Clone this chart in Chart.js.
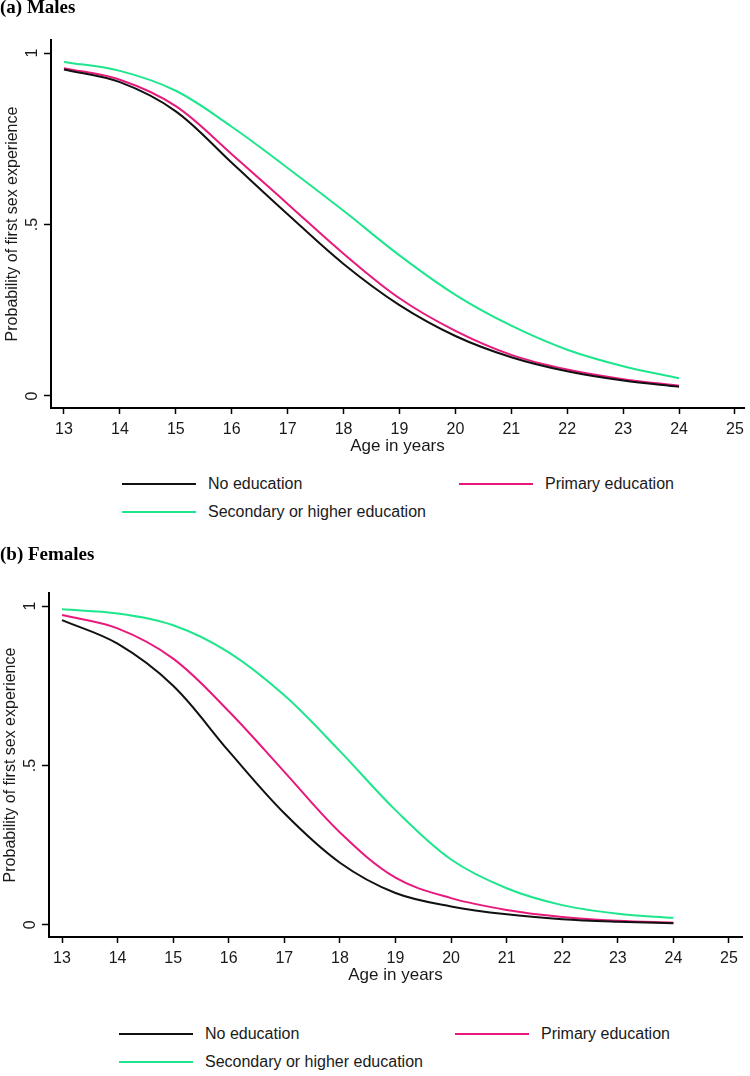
<!DOCTYPE html>
<html>
<head>
<meta charset="utf-8">
<script src="https://cdn.jsdelivr.net/npm/chart.js@4.4.0/dist/chart.umd.min.js"></script>
<style>
  html, body { margin: 0; padding: 0; background: #fff; }
  body { width: 750px; height: 1076px; position: relative; overflow: hidden; font-family: "Liberation Sans", Arial, sans-serif; }
  .panel { position: absolute; left: 0; width: 750px; }
  .legend-item { position: absolute; display: flex; align-items: center; font-size: 16px; color: #1a1a1a; white-space: nowrap; }
  .legend-line { display: inline-block; width: 74px; height: 2px; margin-right: 12px; }
</style>
</head>
<body>
<div class="panel" style="top:0;height:460px;"><canvas id="chart-males"></canvas></div>
<div class="panel" style="top:540px;height:449px;"><canvas id="chart-females"></canvas></div>
<div id="legend-males"></div>
<div id="legend-females"></div>

<script>
// x values (age in years) and tick labels
const ages = [13, 14, 15, 16, 17, 18, 19, 20, 21, 22, 23, 24];
const xTicks = [13, 14, 15, 16, 17, 18, 19, 20, 21, 22, 23, 24, 25];
const yTicks = [0, 0.5, 1];
const yTickLabels = ['0', '.5', '1'];

const seriesNames = ['No education', 'Primary education', 'Secondary or higher education'];
const seriesColors = ['#111111', '#e8197d', '#1ee68c'];

// (a) Males
const malesNoEdu     = [0.952, 0.915, 0.830, 0.680, 0.530, 0.385, 0.265, 0.175, 0.113, 0.072, 0.045, 0.027];
const malesPrimary   = [0.956, 0.922, 0.845, 0.705, 0.560, 0.415, 0.285, 0.190, 0.120, 0.077, 0.049, 0.030];
const malesSecondary = [0.974, 0.948, 0.890, 0.785, 0.665, 0.540, 0.410, 0.295, 0.205, 0.135, 0.087, 0.052];

// (b) Females
const femNoEdu     = [0.956, 0.882, 0.750, 0.545, 0.350, 0.195, 0.100, 0.058, 0.033, 0.018, 0.010, 0.005];
const femPrimary   = [0.972, 0.930, 0.835, 0.670, 0.480, 0.290, 0.148, 0.084, 0.047, 0.025, 0.013, 0.007];
const femSecondary = [0.990, 0.977, 0.940, 0.855, 0.720, 0.545, 0.360, 0.205, 0.115, 0.062, 0.035, 0.022];

const sansFont = "'Liberation Sans', Arial, sans-serif";

function makeChart(canvasId, cfg) {
  const ctx = document.getElementById(canvasId);
  const datasets = cfg.series.map((vals, i) => ({
    label: seriesNames[i],
    data: ages.map((a, j) => ({ x: a, y: vals[j] })),
    borderColor: seriesColors[i],
    backgroundColor: seriesColors[i],
    borderWidth: 2,
    pointRadius: 0,
    tension: 0.35,
    fill: false,
  }));

  return new Chart(ctx, {
    type: 'line',
    data: { datasets },
    options: {
      responsive: true,
      maintainAspectRatio: false,
      animation: false,
      layout: { padding: { left: 0, right: cfg.padRight, top: 0, bottom: 0 } },
      plugins: {
        legend: { display: false },
        tooltip: { enabled: false },
        title: {
          display: true,
          text: cfg.title,
          align: 'start',
          color: '#000',
          font: { family: "'Liberation Serif', 'Times New Roman', serif", size: 19, weight: 'bold', lineHeight: 0.8 },
          padding: { top: cfg.titleTop, bottom: cfg.titleBottom },
        },
      },
      scales: {
        x: {
          type: 'linear',
          min: cfg.xMin,
          max: cfg.xMax,
          afterFit: (scale) => { scale.height = 52; },
          afterBuildTicks: (scale) => { scale.ticks = xTicks.map(v => ({ value: v })); },
          border: { display: true, color: '#000', width: 2 },
          grid: { drawOnChartArea: false, drawTicks: true, tickLength: 6, tickColor: '#000', tickWidth: 1.5 },
          ticks: { color: '#1a1a1a', padding: 6, maxRotation: 0, font: { family: sansFont, size: 16 } },
          title: {
            display: true,
            text: 'Age in years',
            color: '#1a1a1a',
            font: { family: sansFont, size: 17 },
            padding: { top: 0, bottom: 3 },
          },
        },
        y: {
          type: 'linear',
          min: cfg.yMin,
          max: cfg.yMax,
          afterFit: (scale) => { scale.width = cfg.yWidth; },
          afterBuildTicks: (scale) => { scale.ticks = yTicks.map(v => ({ value: v })); },
          border: { display: true, color: '#000', width: 2 },
          grid: { drawOnChartArea: false, drawTicks: true, tickLength: 7, tickColor: '#000', tickWidth: 1.5 },
          ticks: {
            color: '#1a1a1a',
            padding: 5,
            minRotation: 90,
            maxRotation: 90,
            crossAlign: 'center',
            font: { family: sansFont, size: 16 },
            callback: (v) => yTickLabels[yTicks.indexOf(v)] ?? '',
          },
          title: {
            display: true,
            text: 'Probability of first sex experience',
            color: '#1a1a1a',
            font: { family: sansFont, size: 16 },
            padding: { top: cfg.yTitlePad, bottom: 0 },
          },
        },
      },
    },
  });
}

function makeLegend(containerId, top1, top2, col1, col2) {
  const box = document.getElementById(containerId);
  const spots = [[col1, top1], [col2, top1], [col1, top2]];
  seriesNames.forEach((name, i) => {
    const item = document.createElement('div');
    item.className = 'legend-item';
    item.style.left = spots[i][0] + 'px';
    item.style.top = (spots[i][1] - 10) + 'px';
    item.style.height = '20px';
    item.innerHTML = `<span class="legend-line" style="background:${seriesColors[i]}"></span><span>${name}</span>`;
    box.appendChild(item);
  });
}

makeChart('chart-males', {
  title: '(a) Males',
  series: [malesNoEdu, malesPrimary, malesSecondary],
  xMin: 12.768, xMax: 25.161,
  yMin: -0.035, yMax: 1.038,
  yWidth: 51, padRight: 6,
  titleTop: 0, titleBottom: 24.8,
  yTitlePad: 3,
});

makeChart('chart-females', {
  title: '(b) Females',
  series: [femNoEdu, femPrimary, femSecondary],
  xMin: 12.766, xMax: 25.234,
  yMin: -0.038, yMax: 1.041,
  yWidth: 49, padRight: 8,
  titleTop: 7.4, titleBottom: 30.4,
  yTitlePad: 1,
});

makeLegend('legend-males', 484, 512, 122, 459);
makeLegend('legend-females', 1034, 1062, 119, 455);
</script>
</body>
</html>
